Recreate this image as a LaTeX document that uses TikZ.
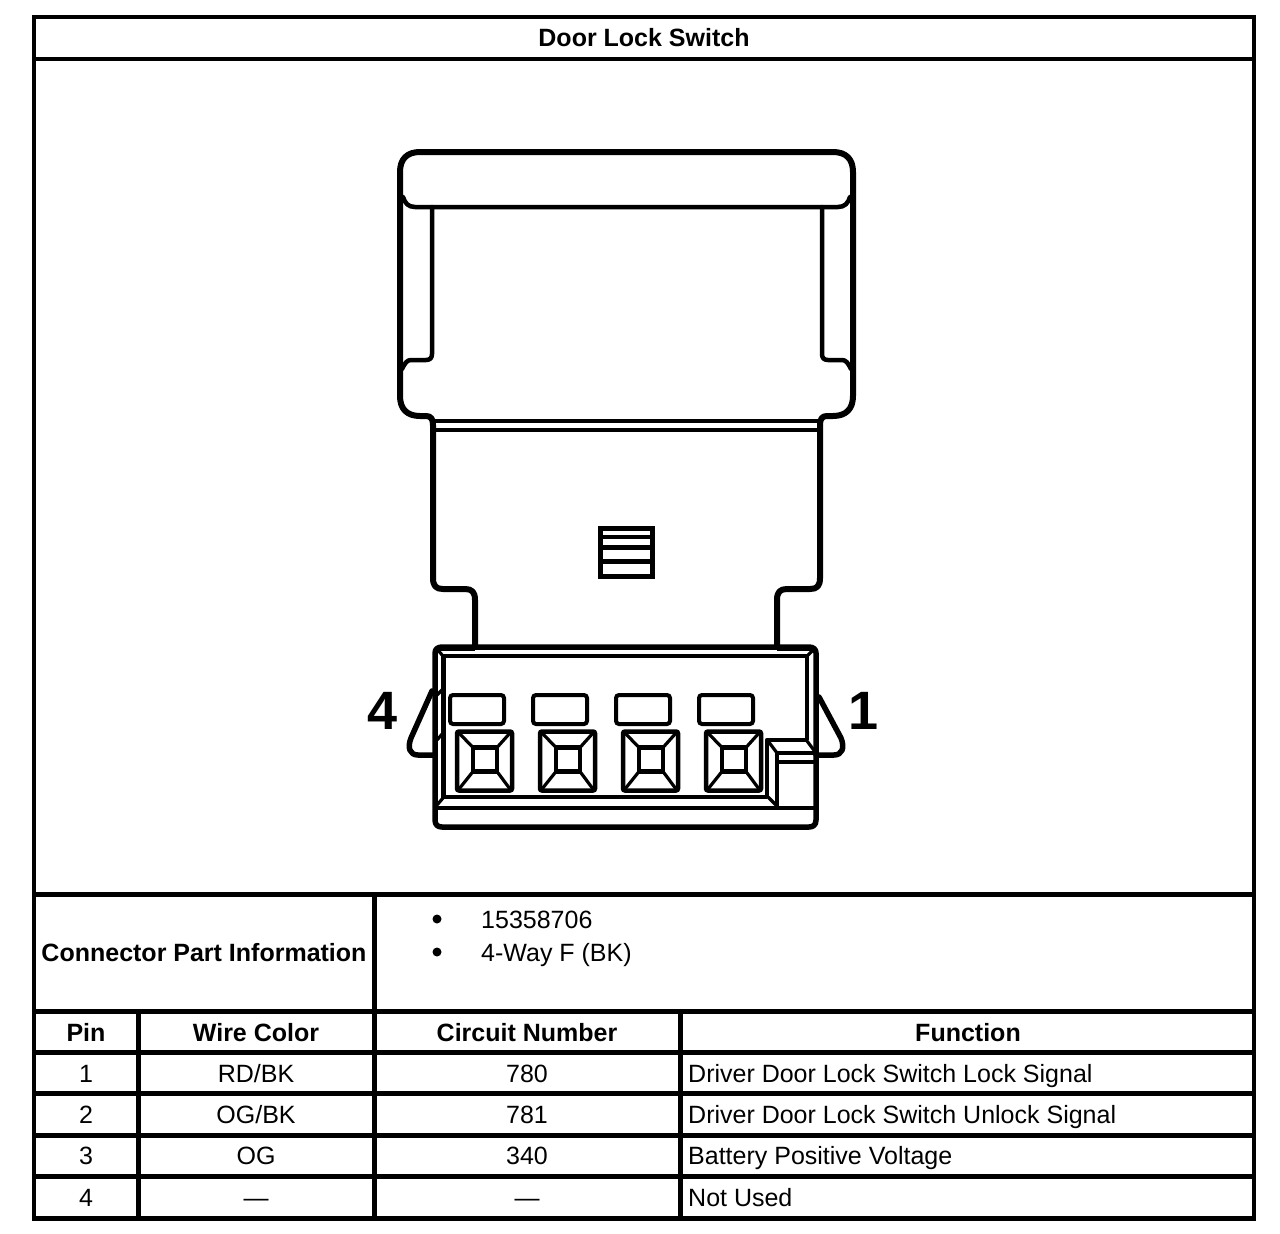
\documentclass[tikz,border=0pt]{standalone}
\usepackage{fontspec}
\setmainfont{Liberation Sans}
\tikzset{
  grid4/.style={line width=4pt},
  grid5/.style={line width=5pt},
  bodyline/.style={line width=6pt,line join=round,line cap=round},
  medline/.style={line width=4.5pt,line join=round,line cap=round},
  thinline/.style={line width=3.2pt,line join=round,line cap=round},
  celltext/.style={font=\fontsize{25}{28}\selectfont,anchor=base,inner sep=0pt},
  headtext/.style={font=\fontsize{25}{28}\selectfont\bfseries,anchor=base,inner sep=0pt},
  lefttext/.style={font=\fontsize{25}{28}\selectfont,anchor=base west,inner sep=0pt},
  pinlabel/.style={font=\fontsize{54}{60}\selectfont\bfseries,anchor=base,inner sep=0pt},
}
\begin{document}
\begin{tikzpicture}[x=1pt,y=-1pt]
\useasboundingbox (0,0) rectangle (1280,1234);
\fill[white] (0,0) rectangle (1280,1234);
% table grid
\draw[grid4] (34,16.5) rectangle (1254,1218);
\draw[grid4] (34,59) -- (1254,59);
\draw[grid5] (34,894) -- (1254,894);
\draw[grid5] (34,1011.5) -- (1254,1011.5);
\foreach \yy in {1052.5,1093.5,1135,1176.5} \draw[grid5] (34,\yy) -- (1254,\yy);
\draw[grid5] (32,1218) -- (1256,1218);
\draw[grid5] (138.5,1011.5) -- (138.5,1218);
\draw[grid5] (374.5,894) -- (374.5,1218);
\draw[grid5] (680,1011.5) -- (680,1218);
% table text
\node[headtext] (title) at (644,46.5) {Door Lock Switch};
\node[headtext] (cpi) at (204,961) {Connector Part Information};
\fill (437,919) circle (4.5);
\fill (437,952) circle (4.5);
\node[lefttext] (pn) at (481,928) {15358706};
\node[lefttext] (way) at (481,961) {4-Way F (BK)};
\node[headtext] (hpin) at (86,1041) {Pin};
\node[headtext] (hwire) at (256,1041) {Wire Color};
\node[headtext] (hcirc) at (527,1041) {Circuit Number};
\node[headtext] (hfunc) at (968,1041) {Function};
\node[celltext] (p1) at (86,1082) {1};
\node[celltext] (w1) at (256,1082) {RD/BK};
\node[celltext] (c1) at (527,1082) {780};
\node[lefttext] (f1) at (688,1082) {Driver Door Lock Switch Lock Signal};
\node[celltext] (p2) at (86,1123) {2};
\node[celltext] (w2) at (256,1123) {OG/BK};
\node[celltext] (c2) at (527,1123) {781};
\node[lefttext] (f2) at (688,1123) {Driver Door Lock Switch Unlock Signal};
\node[celltext] (p3) at (86,1164) {3};
\node[celltext] (w3) at (256,1164) {OG};
\node[celltext] (c3) at (527,1164) {340};
\node[lefttext] (f3) at (688,1164) {Battery Positive Voltage};
\node[celltext] (p4) at (86,1206) {4};
\node[celltext] (w4) at (256,1206) {—};
\node[celltext] (c4) at (527,1206) {—};
\node[lefttext] (f4) at (688,1206) {Not Used};
% housing outer
\draw[bodyline] (433,578) -- (433,425) .. controls (433,419) and (431,416) .. (426,416) -- (420,416)
  .. controls (407,416) and (400,409) .. (400,396) -- (400,172)
  .. controls (400,159) and (407,152) .. (420,152) -- (833,152)
  .. controls (846,152) and (853,159) .. (853,172) -- (853,396)
  .. controls (853,409) and (846,416) .. (833,416) -- (827,416)
  .. controls (822,416) and (820,419) .. (820,425) -- (820,578);
% band
\draw[medline] (403,197) .. controls (405,203) and (408,207) .. (415,207) -- (838,207) .. controls (845,207) and (848,203) .. (850,197);
% inner verticals
\draw[medline] (432,207) -- (432,354) .. controls (432,358) and (430,360) .. (426,360) -- (411,360) .. controls (407,360) and (405,363) .. (402,369);
\draw[medline] (822,207) -- (822,354) .. controls (822,358) and (824,360) .. (828,360) -- (842,360) .. controls (846,360) and (848,363) .. (851,369);
% strip
\draw[thinline,line cap=butt] (433,421) -- (820,421);
\draw[medline,line cap=butt] (433,430) -- (820,430);
% leg
\draw[bodyline] (433,578) .. controls (433,586) and (436,589) .. (443,589) -- (465,589)
  .. controls (472,589) and (475,592) .. (475,600) -- (475,645);
\draw[bodyline] (820,578) .. controls (820,586) and (817,589) .. (810,589) -- (787,589)
  .. controls (780,589) and (777,592) .. (777,600) -- (777,645);
% vent
\draw[line width=5pt] (600.5,528.5) rectangle (652.5,576.5);
\draw[line width=4.5pt] (600,537) -- (653,537);
\draw[line width=5pt] (600,547) -- (653,547);
\draw[line width=5pt] (600,561) -- (653,561);
% connector frame
\draw[bodyline,line width=5.5pt] (442,647) -- (809,647) .. controls (813,647) and (816,649) .. (816,653)
  -- (816,820) .. controls (816,825) and (813,827) .. (809,827) -- (442,827)
  .. controls (438,827) and (435,825) .. (435,820) -- (435,653) .. controls (435,649) and (438,647) .. (442,647);
\draw[line width=6pt] (438,648) -- (475,648);
\draw[line width=6pt] (777,648) -- (812,648);
\draw[medline,line cap=butt] (443.5,797) -- (443.5,656) -- (807,656) -- (807,740);
\draw[medline,line cap=butt] (441,797) -- (767,797);
\draw[line width=4pt] (435,808) -- (816,808);
\draw[thinline] (437,649) -- (443,656);
\draw[thinline] (437,805) -- (443,798);
\draw[thinline] (814,649) -- (807,656);
\draw[thinline] (437,695) -- (443,689);
\draw[thinline] (437,740) -- (443,733);
% latches
\draw[medline,line width=5.5pt] (432,691) -- (411,738) .. controls (407,748) and (410,755) .. (418,755) -- (435,755);
\draw[medline,line width=5.5pt] (819,697) -- (841,738) .. controls (845,748) and (842,755) .. (834,755) -- (816,755);
% tab
\draw[medline,line cap=butt] (767,797) -- (767,740) -- (807,740);
\draw[thinline] (768,741) -- (777,753);
\draw[thinline] (807,741) -- (816,753);
\draw[thinline] (768,797) -- (777,806);
\draw[medline,line cap=butt] (777,806) -- (777,753) -- (816,753);
\draw[thinline,line cap=butt] (777,762) -- (816,762);
% slots and pins
\foreach \dx in {0,83,166,249} {
  \draw[line width=4pt,rounded corners=3pt] (450+\dx,695) rectangle (504+\dx,724);
  \draw[line width=4.5pt,rounded corners=2pt] (457+\dx,731.5) rectangle (512+\dx,790.5);
  \draw[line width=4.5pt] (473+\dx,747.5) rectangle (497+\dx,771.5);
  \draw[thinline] (459+\dx,733) -- (473+\dx,747.5);
  \draw[thinline] (510+\dx,733) -- (497+\dx,747.5);
  \draw[thinline] (459+\dx,789) -- (473+\dx,771.5);
  \draw[thinline] (510+\dx,789) -- (497+\dx,771.5);
}
\node[pinlabel] (lfour) at (383,729) {4};
\node[pinlabel] (lone) at (864,729) {1};
\end{tikzpicture}
\end{document}
